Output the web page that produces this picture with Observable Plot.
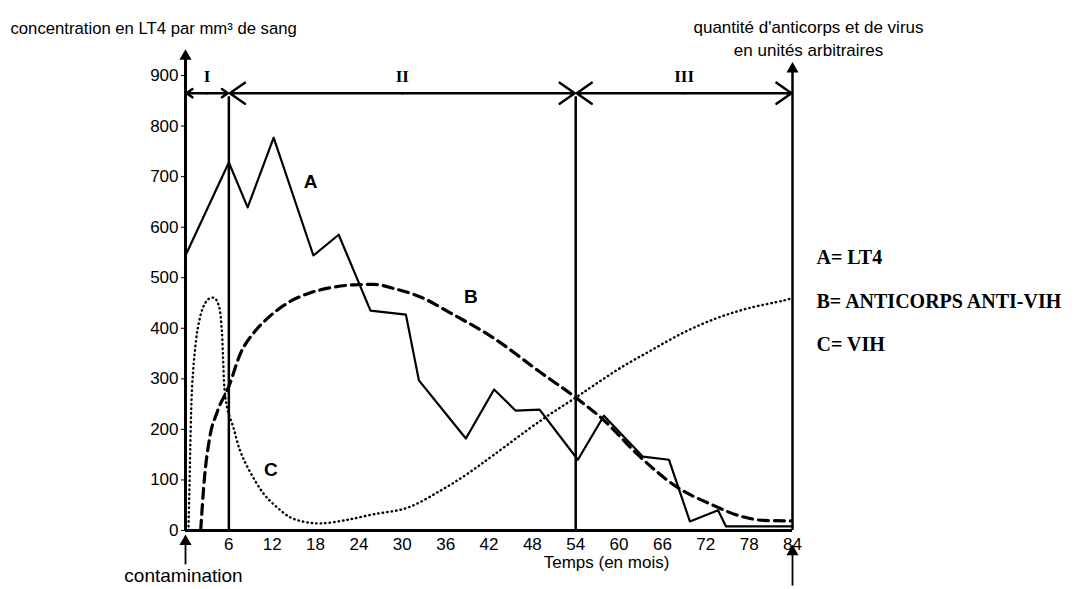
<!DOCTYPE html>
<html>
<head>
<meta charset="utf-8">
<script src="https://cdn.jsdelivr.net/npm/d3@7"></script>
<script src="https://cdn.jsdelivr.net/npm/@observablehq/plot@0.6"></script>
<style>
  html, body { margin: 0; padding: 0; background: #fff; }
</style>
</head>
<body>
<div id="chart"></div>
<script>
// ---- data ----
const ltMonths = [0, 6, 8.6, 12.2, 17.7, 21.2, 25.6, 30.5, 32.3, 38.8, 42.7, 45.7, 49, 54.3, 57.9, 63.3, 66.9, 69.8, 73.7, 74.8, 84];
const ltValues = [544, 728, 639, 777, 544, 585, 435, 427, 297, 182, 279, 237, 239, 140, 227, 146, 140, 18, 40, 8, 8];

const abMonths = [2.1, 2.6, 3.3, 4.4, 6, 7.6, 9.5, 11.3, 14, 17, 20, 23.3, 26, 29, 32.5, 36.7, 42.7, 49.2, 54, 57.9, 62.6, 68.1, 72.7, 76.9, 80, 83.8];
const abValues = [0, 100, 180, 235, 285, 350, 392, 419, 449, 469, 480, 486, 487, 478, 462, 430, 380, 312, 263, 218, 150, 85, 52, 28, 20, 19];

const virMonths = [0.4, 0.6, 0.7, 0.9, 1.2, 1.7, 2.4, 3.2, 4.0, 4.6, 5.0, 5.2, 5.4, 5.8, 6.6, 7.5, 8.6, 10.8, 12.5, 14.5, 16.5, 18.7, 22, 26, 30.7, 35.3, 39, 42.7, 49.2, 54, 56.5, 60, 64.4, 69, 73.7, 78, 82.8, 84];
const virValues = [0, 120, 190, 280, 340, 400, 440, 458, 460, 445, 400, 340, 280, 240, 205, 160, 125, 73, 48, 26, 17, 14, 20, 32, 45, 79, 112, 150, 218, 263, 287, 320, 356, 392, 421, 440, 455, 460];

const periodStart = [0, 6, 54];
const periodEnd = [6, 54, 84];
const periodLabel = ["I", "II", "III"];

const xTicks = [6, 12, 18, 24, 30, 36, 42, 48, 54, 60, 66, 72, 78, 84];
const yTicks = [0, 100, 200, 300, 400, 500, 600, 700, 800, 900];

const legendLines = ["A= LT4", "B= ANTICORPS ANTI-VIH", "C= VIH"];

// ---- tables ----
const lt = ltMonths.map((m, i) => ({m, v: ltValues[i]}));
const ab = abMonths.map((m, i) => ({m, v: abValues[i]}));
const vir = virMonths.map((m, i) => ({m, v: virValues[i]}));
const periods = periodStart.map((s, i) => ({s, e: periodEnd[i], mid: (s + periodEnd[i]) / 2, label: periodLabel[i]}));

const serif = "'Liberation Serif', 'DejaVu Serif', serif";
const legendDy = [174, 218, 261];

const chart = Plot.plot({
  width: 1079,
  height: 589,
  marginLeft: 185,
  marginRight: 287,
  marginTop: 75,
  marginBottom: 59,
  x: {domain: [0, 84]},
  y: {domain: [0, 900]},
  style: {fontFamily: "'Liberation Sans', Arial, sans-serif", fontSize: "17px", background: "#fff", color: "#000", overflow: "visible"},
  marks: [
    Plot.axisY({ticks: yTicks, tickSize: 4, tickPadding: 3, fontSize: 17, label: null}),
    Plot.axisX({ticks: xTicks, tickSize: 0, tickPadding: 7, fontSize: 17, label: null}),
    // curves
    Plot.line(vir, {x: "m", y: "v", curve: "catmull-rom", stroke: "#000", strokeWidth: 2.4, strokeDasharray: "0.5,4", strokeLinecap: "round"}),
    Plot.line(ab, {x: "m", y: "v", curve: "monotone-x", stroke: "#000", strokeWidth: 3.2, strokeDasharray: "10,6"}),
    Plot.line(lt, {x: "m", y: "v", stroke: "#000", strokeWidth: 2.2}),
    // frame lines
    Plot.ruleY([0], {x1: 0, x2: 84, stroke: "#000", strokeWidth: 3}),
    Plot.ruleX([0], {y1: 0, y2: 935, stroke: "#000", strokeWidth: 3}),
    Plot.ruleX([84], {y1: 0, y2: 910, stroke: "#000", strokeWidth: 2.5}),
    Plot.ruleX([6, 54], {y1: 0, y2: 858, stroke: "#000", strokeWidth: 2.5}),
    Plot.dot([0], {x: d => d, y: () => 938, symbol: "triangle", r: 4.5, fill: "#000", stroke: null}),
    Plot.dot([84], {x: d => d, y: () => 913, symbol: "triangle", r: 4.5, fill: "#000", stroke: null}),
    // period arrows
    Plot.arrow(periods, {x1: "mid", x2: "s", y1: () => 865, y2: () => 865, headLength: 11, headAngle: 70, strokeWidth: 2.5, stroke: "#000", insetEnd: 1}),
    Plot.arrow(periods, {x1: "mid", x2: "e", y1: () => 865, y2: () => 865, headLength: 11, headAngle: 70, strokeWidth: 2.5, stroke: "#000", insetEnd: 1}),
    Plot.text(periods, {x: "mid", y: () => 897, text: "label", fontFamily: serif, fontWeight: "bold", fontSize: 17}),
    // curve letters
    Plot.text(["A"], {x: () => 17.3, y: () => 690, text: d => d, fontWeight: "bold", fontSize: 19}),
    Plot.text(["B"], {x: () => 39.5, y: () => 462, text: d => d, fontWeight: "bold", fontSize: 19}),
    Plot.text(["C"], {x: () => 11.8, y: () => 120, text: d => d, fontWeight: "bold", fontSize: 19}),
    // bottom arrows
    Plot.ruleX([0], {y1: -68, y2: -25, stroke: "#000", strokeWidth: 1.8}),
    Plot.dot([0], {x: d => d, y: () => -22, symbol: "triangle", r: 4.5, fill: "#000", stroke: null}),
    Plot.ruleX([84], {y1: -110, y2: -45, stroke: "#000", strokeWidth: 1.8}),
    Plot.dot([84], {x: d => d, y: () => -42, symbol: "triangle", r: 4.5, fill: "#000", stroke: null}),
    // texts
    Plot.text(["contamination"], {frameAnchor: "bottom-left", dx: -2, dy: 51, textAnchor: "middle", text: d => d, fontSize: 19}),
    Plot.text(["Temps (en mois)"], {frameAnchor: "bottom-left", dx: 421, dy: 37, textAnchor: "middle", text: d => d, fontSize: 17}),
    Plot.text(["concentration en LT4 par mm³ de sang"], {frameAnchor: "top-left", dx: -175, dy: -53, textAnchor: "start", text: d => d, fontSize: 16.7}),
    Plot.text(["quantité d'anticorps et de virus"], {frameAnchor: "top-right", dx: 16, dy: -55, textAnchor: "middle", text: d => d, fontSize: 17}),
    Plot.text(["en unités arbitraires"], {frameAnchor: "top-right", dx: 16, dy: -32, textAnchor: "middle", text: d => d, fontSize: 17}),
    ...legendLines.map((line, i) => Plot.text([line], {frameAnchor: "top-right", dx: 24, dy: legendDy[i], text: d => d, textAnchor: "start", fontFamily: serif, fontWeight: "bold", fontSize: 20}))
  ]
});
document.getElementById("chart").appendChild(chart);
</script>
</body>
</html>
